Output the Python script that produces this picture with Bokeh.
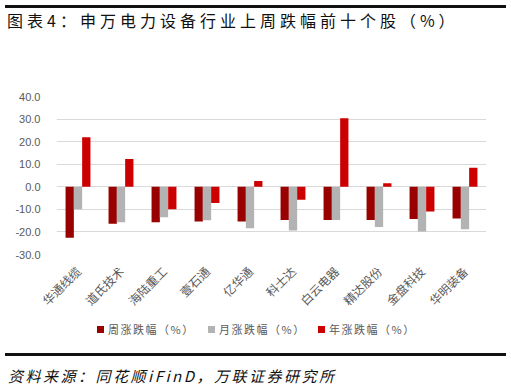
from math import pi
from bokeh.plotting import figure
from bokeh.layouts import column
from bokeh.models import (ColumnDataSource, Range1d, Div,
                          FixedTicker, NumeralTickFormatter)
from bokeh.transform import dodge
from bokeh.embed import file_html
from bokeh.resources import INLINE

stocks = ["华通线缆", "道氏技术", "海陆重工", "壹石通", "亿华通",
          "科士达", "白云电器", "精达股份", "金盘科技", "华明装备"]
week = [-22.6, -16.4, -15.7, -15.4, -15.4, -14.7, -14.7, -14.7, -14.3, -14.1]
month = [-10.0, -15.7, -13.5, -14.8, -18.4, -19.4, -14.7, -17.8, -19.8, -18.8]
year = [22.0, 12.3, -10.0, -7.2, 2.6, -5.7, 30.4, 1.6, -11.0, 8.4]
y_ticks = [-30, -20, -10, 0, 10, 20, 30, 40]
series_names = ["周涨跌幅（%）", "月涨跌幅（%）", "年涨跌幅（%）"]
series_colors = ["#990000", "#b3b3b3", "#cc0000"]
title_text = "图表4：申万电力设备行业上周跌幅前十个股（%）"
source_text = "资料来源：同花顺iFinD，万联证券研究所"

CJK = "Noto Sans CJK SC"
src = ColumnDataSource(dict(stock=stocks, week=week, month=month, year=year))

p = figure(x_range=stocks, y_range=Range1d(-30, 40), width=511, height=260,
           output_backend="svg", toolbar_location=None, title=None,
           min_border_left=56, min_border_right=25, min_border_top=36,
           min_border_bottom=66, margin=0)
p.outline_line_color = None
p.background_fill_color = "white"
p.border_fill_color = "white"

bw = 0.193
for off, col, c in zip((-bw, 0, bw), ("week", "month", "year"), series_colors):
    p.vbar(x=dodge("stock", off, range=p.x_range), top=col, width=bw,
           source=src, fill_color=c, line_color=None)

p.xgrid.grid_line_color = None
p.ygrid.grid_line_color = "#d9d9d9"
p.ygrid.grid_line_width = 1
p.yaxis.ticker = FixedTicker(ticks=y_ticks)
p.yaxis.formatter = NumeralTickFormatter(format="0.0")
for ax in (p.xaxis[0], p.yaxis[0]):
    ax.axis_line_color = None
    ax.major_tick_line_color = None
    ax.minor_tick_line_color = None
    ax.major_label_text_color = "#595959"
    ax.major_label_text_font_size = "11px"
p.yaxis.major_label_text_font = "Liberation Sans"
p.yaxis.major_label_standoff = 10
p.xaxis.major_label_text_font = CJK
p.xaxis.major_label_text_font_size = "12px"
p.xaxis.major_label_orientation = pi / 4
p.xaxis.major_label_standoff = 8

top_div = Div(width=511, height=60, margin=0, text=(
    "<div style='position:relative;width:511px;height:60px;'>"
    "<div style='position:absolute;left:5px;top:5px;width:501px;height:3px;background:#111;'></div>"
    "<div style='position:absolute;left:7px;top:9px;line-height:22px;white-space:nowrap;"
    f"font-family:\"{CJK}\";font-size:16px;letter-spacing:4px;color:#111;'>{title_text}</div>"
    "</div>"))

legend_x = [97, 208, 318]
legend_html = ""
for lx, name, c in zip(legend_x, series_names, series_colors):
    legend_html += (
        f"<div style='position:absolute;left:{lx}px;top:6px;width:7px;height:7px;background:{c};'></div>"
        f"<div style='position:absolute;left:{lx + 11}px;top:2px;line-height:14px;white-space:nowrap;"
        f"font-family:\"{CJK}\";font-size:11px;letter-spacing:1.5px;color:#595959;'>{name}</div>")

bottom_div = Div(width=511, height=68, margin=0, text=(
    "<div style='position:relative;width:511px;height:68px;'>"
    + legend_html +
    "<div style='position:absolute;left:5px;top:33px;width:501px;height:3px;background:#111;'></div>"
    "<div style='position:absolute;left:8px;top:46px;line-height:20px;white-space:nowrap;"
    f"font-family:\"{CJK}\";font-size:15px;font-style:italic;letter-spacing:2.5px;color:#111;'>{source_text}</div>"
    "</div>"))

layout = column(top_div, p, bottom_div, spacing=0, margin=0)
open("out.html", "w").write(file_html(layout, INLINE))
